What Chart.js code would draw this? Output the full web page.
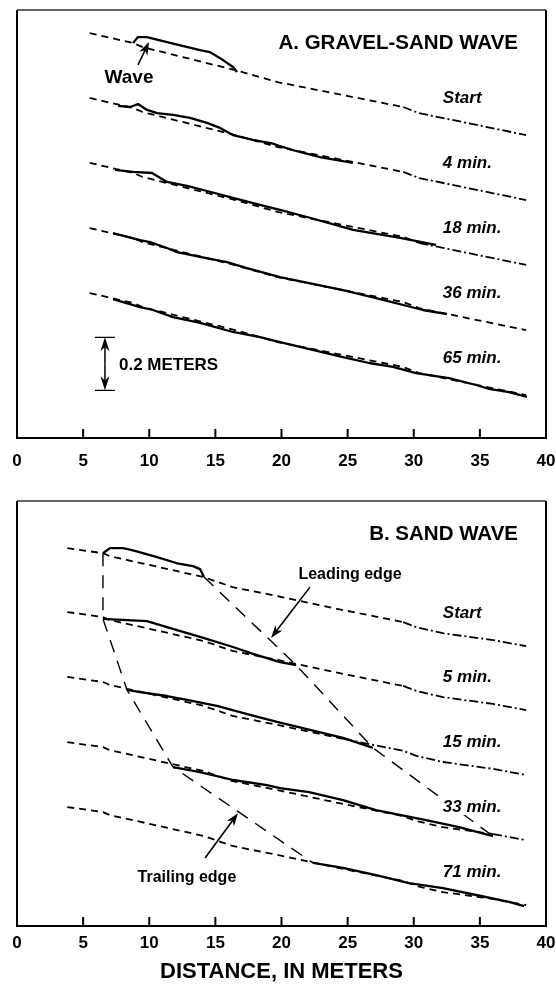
<!DOCTYPE html>
<html>
<head>
<meta charset="utf-8">
<script src="https://cdn.jsdelivr.net/npm/chart.js@4.4.1/dist/chart.umd.min.js"></script>
<style>
    body { margin: 0; background: #fff; width: 556px; height: 994px; overflow: hidden; position: relative; }
    canvas { position: absolute; left: 0; }
    #chartA { top: 0; }
    #chartB { top: 490px; }
</style>
</head>
<body>
<canvas id="chartA" width="556" height="490"></canvas>
<canvas id="chartB" width="556" height="504"></canvas>
<script>
var xTicks = [0, 5, 10, 15, 20, 25, 30, 35, 40];

// A. gravel-sand wave -- initial bed (m, relative to upstream end) and vertical offset of each profile
var bedXA = [5.5, 8.8, 9.5, 16.5, 19.7, 29.2, 30.4, 38.5];
var bedZA = [0, -0.038, -0.053, -0.140, -0.185, -0.279, -0.302, -0.385];
var timesA = ['Start', '4 min.', '18 min.', '36 min.', '65 min.'];
var offsetA = [1.528, 1.283, 1.038, 0.792, 0.547];
var dashDotA = [29, 25, 30, null, null];
var waveXA = [
    [8.77, 9.15, 9.83, 11.34, 13.84, 14.59, 15.58, 16.33, 16.64],
    [7.64, 8.54, 9.15, 9.83, 10.59, 11.80, 13.08, 14.37, 15.35, 16.33, 17.85, 19.36, 19.89, 21.1, 22.9, 25.4],
    [7.41, 8.77, 10.21, 11.34, 12.85, 14.37, 16.33, 18.37, 19.89, 22.0, 25.41, 28.96, 31.68],
    [7.26, 9.30, 10.06, 11.34, 12.10, 13.84, 15.88, 17.39, 19.89, 24.65, 27.15, 30.70, 32.51],
    [7.26, 9.30, 10.28, 11.80, 13.84, 16.33, 18.37, 19.89, 24.65, 26.62, 28.43, 30.17, 32.67, 34.71, 35.69, 37.20, 38.56]
];
var waveZA = [
    [-0.038, -0.015, -0.015, -0.034, -0.064, -0.072, -0.102, -0.128, -0.147],
    [-0.030, -0.034, -0.023, -0.045, -0.057, -0.064, -0.075, -0.094, -0.113, -0.140, -0.158, -0.172, -0.182, -0.200, -0.223, -0.245],
    [-0.026, -0.034, -0.038, -0.072, -0.087, -0.106, -0.132, -0.158, -0.177, -0.205, -0.253, -0.283, -0.309],
    [-0.019, -0.045, -0.053, -0.075, -0.091, -0.109, -0.128, -0.151, -0.185, -0.234, -0.264, -0.309, -0.325],
    [-0.023, -0.053, -0.064, -0.091, -0.113, -0.147, -0.166, -0.185, -0.242, -0.264, -0.279, -0.302, -0.321, -0.347, -0.362, -0.374, -0.392]
];

// B. sand wave
var bedXB = [3.8, 6.5, 7.0, 14.1, 16.3, 19.7, 24.7, 29.2, 30.2, 32.2, 36.0, 38.5];
var bedZB = [0, -0.019, -0.030, -0.109, -0.147, -0.181, -0.234, -0.279, -0.298, -0.321, -0.347, -0.370];
var timesB = ['Start', '5 min.', '15 min.', '33 min.', '71 min.'];
var offsetB = [1.426, 1.185, 0.940, 0.694, 0.449];
var dashDotB = [29, 29, 24, 35, null];
var waveXB = [
    [6.50, 7.03, 8.02, 8.77, 10.59, 12.10, 13.31, 13.84, 14.14],
    [6.50, 9.83, 12.10, 13.84, 16.33, 17.85, 19.89, 21.10],
    [8.32, 9.30, 11.34, 12.85, 15.12, 17.62, 19.66, 24.65, 26.92],
    [11.80, 13.84, 16.33, 18.90, 19.89, 22.08, 24.65, 27.15, 30.93, 33.42, 35.99],
    [22.38, 24.65, 27.15, 29.64, 32.21, 34.71, 37.20, 38.34]
];
var waveZB = [
    [-0.019, 0.000, 0.000, -0.008, -0.034, -0.057, -0.068, -0.079, -0.109],
    [-0.026, -0.034, -0.068, -0.094, -0.132, -0.158, -0.189, -0.200],
    [-0.049, -0.057, -0.072, -0.087, -0.109, -0.143, -0.170, -0.230, -0.268],
    [-0.094, -0.113, -0.143, -0.162, -0.174, -0.189, -0.219, -0.257, -0.294, -0.321, -0.355],
    [-0.211, -0.230, -0.257, -0.287, -0.306, -0.332, -0.358, -0.374]
];

var FONT = '"Liberation Sans", Arial, Helvetica, sans-serif';

function arrow(ctx, x0, y0, x1, y1, len, half) {
    var ang = Math.atan2(y1 - y0, x1 - x0);
    ctx.beginPath();
    ctx.moveTo(x0, y0);
    ctx.lineTo(x1 - Math.cos(ang) * len * 0.6, y1 - Math.sin(ang) * len * 0.6);
    ctx.stroke();
    ctx.beginPath();
    ctx.moveTo(x1, y1);
    ctx.lineTo(x1 - Math.cos(ang) * len - Math.sin(ang) * half, y1 - Math.sin(ang) * len + Math.cos(ang) * half);
    ctx.lineTo(x1 - Math.cos(ang) * len * 0.7, y1 - Math.sin(ang) * len * 0.7);
    ctx.lineTo(x1 - Math.cos(ang) * len + Math.sin(ang) * half, y1 - Math.sin(ang) * len - Math.cos(ang) * half);
    ctx.closePath();
    ctx.fill();
}

var notesPlugin = {
    id: 'notes',
    afterDatasetsDraw: function (chart, args, o) {
        var ctx = chart.ctx, a = chart.chartArea;
        var xs = chart.scales.x, ys = chart.scales.y;
        ctx.save();
        ctx.strokeStyle = '#000';
        ctx.fillStyle = '#000';

        // frame + inside tick marks
        ctx.lineWidth = 2;
        ctx.beginPath();
        ctx.moveTo(a.left, a.top);
        ctx.lineTo(a.left, a.bottom);
        ctx.lineTo(a.right, a.bottom);
        ctx.lineTo(a.right, a.top);
        ctx.stroke();
        ctx.lineWidth = 1.3;
        ctx.strokeStyle = '#333';
        ctx.beginPath();
        ctx.moveTo(a.left, a.top);
        ctx.lineTo(a.right, a.top);
        ctx.stroke();
        ctx.strokeStyle = '#000';
        ctx.lineWidth = 2;
        xTicks.slice(1, -1).forEach(function (v) {
            var p = xs.getPixelForValue(v);
            ctx.beginPath();
            ctx.moveTo(p, a.bottom);
            ctx.lineTo(p, a.bottom - 9);
            ctx.stroke();
        });

        // panel title
        ctx.font = 'bold 20.5px ' + FONT;
        ctx.textAlign = 'right';
        ctx.textBaseline = 'middle';
        ctx.fillText(o.title, a.right - 28, a.top + 33);

        // time labels beside each profile (white backing, lines break under the text)
        ctx.font = 'italic bold 17px ' + FONT;
        ctx.textAlign = 'left';
        o.times.forEach(function (t, i) {
            var tx = xs.getPixelForValue(32.2), ty = ys.getPixelForValue(o.offset[i] - 0.245);
            var w = ctx.measureText(t).width;
            ctx.fillStyle = '#fff';
            ctx.fillRect(tx - 2, ty - 8, w + 4, 16);
            ctx.fillStyle = '#000';
            ctx.fillText(t, tx, ty);
        });

        o.texts.forEach(function (t) {
            ctx.font = 'bold ' + t.size + 'px ' + FONT;
            ctx.textAlign = t.align;
            ctx.fillText(t.text, xs.getPixelForValue(t.x), ys.getPixelForValue(t.y));
        });

        ctx.lineWidth = 1.6;
        o.arrows.forEach(function (r) {
            arrow(ctx, xs.getPixelForValue(r.from[0]), ys.getPixelForValue(r.from[1]),
                xs.getPixelForValue(r.to[0]), ys.getPixelForValue(r.to[1]), 13, 4.5);
        });

        if (o.scaleBar) {
            var sx = xs.getPixelForValue(o.scaleBar.x);
            var y0 = ys.getPixelForValue(o.scaleBar.y);
            var y1 = ys.getPixelForValue(o.scaleBar.y + o.scaleBar.len);
            var mid = (y0 + y1) / 2;
            ctx.lineWidth = 1.2;
            ctx.beginPath();
            ctx.moveTo(sx - 10, y0); ctx.lineTo(sx + 10, y0);
            ctx.moveTo(sx - 10, y1); ctx.lineTo(sx + 10, y1);
            ctx.stroke();
            ctx.lineWidth = 1.5;
            arrow(ctx, sx, mid, sx, y1, 14, 4.5);
            arrow(ctx, sx, mid, sx, y0, 14, 4.5);
        }
        ctx.restore();
    }
};

function profileSets(bedX, bedZ, offset, dashDot, waveX, waveZ) {
    var sets = [];
    offset.forEach(function (off, i) {
        var from = dashDot[i];
        sets.push({
            data: bedX.map(function (x, j) { return { x: x, y: off + bedZ[j] }; }),
            borderColor: '#000',
            borderWidth: 1.8,
            borderDash: [7, 5],
            segment: {
                borderDash: function (c) {
                    return from !== null && c.p0.parsed.x >= from ? [9, 3, 2, 3] : [7, 5];
                }
            }
        });
        sets.push({
            data: waveX[i].map(function (x, j) { return { x: x, y: off + waveZ[i][j] }; }),
            borderColor: '#000',
            borderWidth: 2.3
        });
    });
    return sets;
}

function makeChart(id, datasets, yMax, axisH, pad, tickPad, notes, axisTitle) {
    return new Chart(document.getElementById(id), {
        type: 'line',
        data: { datasets: datasets },
        options: {
            responsive: false,
            animation: false,
            events: [],
            layout: { padding: pad },
            elements: {
                point: { radius: 0 },
                line: { tension: 0, borderJoinStyle: 'round', fill: false }
            },
            scales: {
                x: {
                    type: 'linear',
                    min: 0,
                    max: 40,
                    afterBuildTicks: function (s) { s.ticks = xTicks.map(function (v) { return { value: v }; }); },
                    afterFit: function (s) {
                        s.height = axisH;
                        s.paddingLeft = 0;
                        s.paddingRight = 0;
                    },
                    grid: { display: false, drawTicks: false },
                    border: { display: false },
                    ticks: {
                        color: '#000',
                        padding: tickPad,
                        maxRotation: 0,
                        autoSkip: false,
                        font: { family: FONT, size: 17, weight: 'bold' }
                    },
                    title: axisTitle
                },
                y: { type: 'linear', min: 0, max: yMax, display: false }
            },
            plugins: {
                legend: { display: false },
                tooltip: { enabled: false },
                notes: notes
            }
        },
        plugins: [notesPlugin]
    });
}

makeChart('chartA',
    profileSets(bedXA, bedZA, offsetA, dashDotA, waveXA, waveZA),
    1.615, 52, { left: 17, right: 10, top: 10, bottom: 0 }, 13,
    {
        title: 'A. GRAVEL-SAND WAVE',
        times: timesA,
        offset: offsetA,
        texts: [
            { text: 'Wave', x: 8.47, y: 1.358, align: 'center', size: 19 },
            { text: '0.2 METERS', x: 7.71, y: 0.275, align: 'left', size: 17 }
        ],
        arrows: [{ from: [9.15, 1.408], to: [9.98, 1.494] }],
        scaleBar: { x: 6.65, y: 0.18, len: 0.2 }
    },
    { display: false });

// leading and trailing edges of the sand wave, joined through the ends of each measured profile
var setsB = profileSets(bedXB, bedZB, offsetB, dashDotB, waveXB, waveZB);
var leading = [0, 1, 2, 3].map(function (i) {
    var n = waveXB[i].length - 1;
    return { x: waveXB[i][n], y: offsetB[i] + waveZB[i][n] };
});
var trailing = [0, 1, 2, 3, 4].map(function (i) {
    return { x: waveXB[i][0], y: offsetB[i] + waveZB[i][0] };
});
setsB.push({ data: leading, borderColor: '#000', borderWidth: 1.4, borderDash: [13, 9] });
setsB.push({ data: trailing, borderColor: '#000', borderWidth: 1.4, borderDash: [13, 9] });

makeChart('chartB', setsB,
    1.604, 68, { left: 17, right: 10, top: 11, bottom: 0 }, 7,
    {
        title: 'B. SAND WAVE',
        times: timesB,
        offset: offsetB,
        texts: [
            { text: 'Leading edge', x: 25.18, y: 1.328, align: 'center', size: 16 },
            { text: 'Trailing edge', x: 12.85, y: 0.181, align: 'center', size: 16 }
        ],
        arrows: [
            { from: [22.15, 1.279], to: [19.21, 1.087] },
            { from: [14.22, 0.257], to: [16.71, 0.426] }
        ],
        scaleBar: null
    },
    {
        display: true,
        text: 'DISTANCE, IN METERS',
        color: '#000',
        font: { family: FONT, size: 22, weight: 'bold' },
        padding: { top: 0, bottom: 9 }
    });
</script>
</body>
</html>
